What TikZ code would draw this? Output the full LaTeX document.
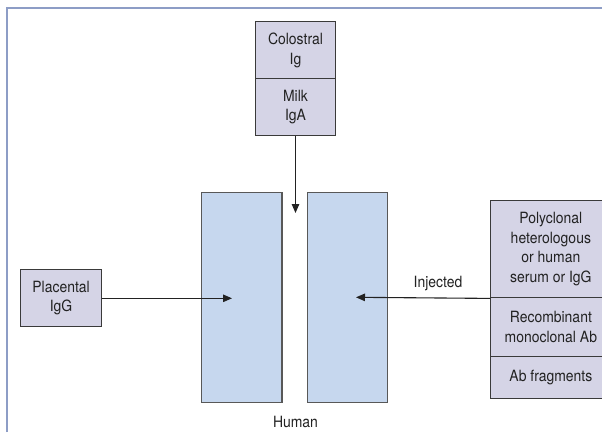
\documentclass[tikz,border=0pt]{standalone}
\usepackage{fontspec}
\setmainfont[FakeStretch=0.9]{TeX Gyre Heros}
\usetikzlibrary{arrows.meta}
\definecolor{boxfill}{HTML}{D5D4E6}
\definecolor{bodyfill}{HTML}{C6D7EE}
\definecolor{framec}{HTML}{8D9DC6}
\definecolor{edgec}{HTML}{3A3A3A}
\definecolor{txt}{HTML}{222222}
\tikzset{
  srcbox/.style={draw=edgec, fill=boxfill, line width=1.1pt, inner sep=0pt, align=center,
    text=txt, font=\fontsize{15.5}{19.5}\selectfont},
  bodybox/.style={draw=edgec!85, fill=bodyfill, line width=1.1pt, inner sep=0pt,
    minimum width=80.5pt, minimum height=210pt},
  lbl/.style={text=txt, font=\fontsize{15.5}{19.5}\selectfont, inner sep=0pt},
  flow/.style={draw=txt, line width=1.1pt, -{Triangle[length=9pt,width=7.5pt]}}
}
\begin{document}
\begin{tikzpicture}[x=1pt,y=-1pt]
\useasboundingbox (0,0) rectangle (602,432);
\clip (0,0) rectangle (602,432);
\fill[white] (0,0) rectangle (602,432);
% frame
\draw[framec, line width=1.5pt] (7,432) -- (7,8) -- (610,8);
% source boxes
\node[srcbox, minimum width=80pt, minimum height=57pt] (colostral) at (295.5,50.2) {Colostral\\Ig};
\node[srcbox, minimum width=80pt, minimum height=56.6pt] (milk) at (295.5,107) {Milk\\IgA};
\node[srcbox, minimum width=81.2pt, minimum height=57pt] (placental) at (61.1,297.8) {Placental\\IgG};
\node[srcbox, minimum width=120pt, minimum height=97.3pt, anchor=north west] (poly) at (490.3,200) {Polyclonal\\heterologous\\or human\\serum or IgG};
\node[srcbox, minimum width=120pt, minimum height=58.7pt, anchor=north west] (recomb) at (490.3,297.3) {Recombinant\\monoclonal Ab};
\node[srcbox, minimum width=120pt, minimum height=42.3pt, anchor=north west] (frag) at (490.3,356) {Ab fragments};
% human body
\node[bodybox] (lbody) at (241.75,297.7) {};
\node[bodybox] (rbody) at (347.5,297.7) {};
\node[lbl] (human) at (295.5,421.5) {Human};
% arrow ends
\coordinate (topin) at (295.5,213);
\coordinate (leftin) at (232,298.3);
\coordinate (rightin) at (356,297.3);
\draw[flow] (milk.south) -- (topin);
\draw[flow] (placental.east |- leftin) -- (leftin);
\draw[flow] (poly.south west) -- (rightin);
\node[lbl] (injected) at (438,284) {Injected};
\end{tikzpicture}
\end{document}
